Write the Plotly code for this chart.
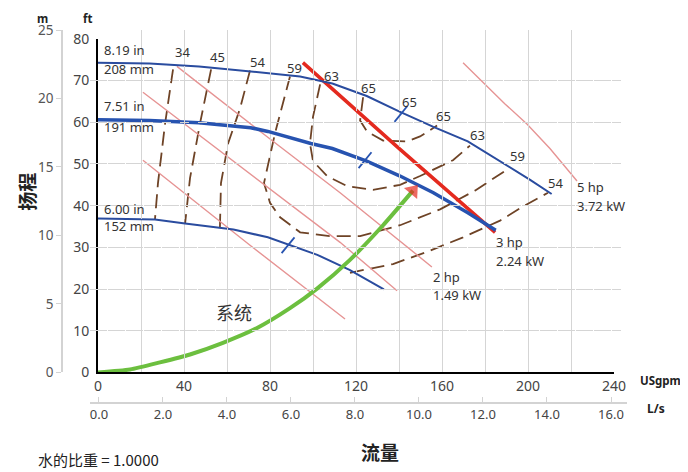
import plotly.graph_objects as go

# ---------------- data (flow in USgpm, head in ft) ----------------
flow_819 = [0, 24, 47, 71, 94, 109, 125, 140.5, 156, 172, 187, 201, 211]
head_819 = [74.3, 74.1, 73.4, 72.2, 71.0, 69.3, 66.3, 62.5, 58.9, 55.4, 50.7, 46.2, 42.8]

flow_751 = [0, 24, 47, 71, 79, 99, 109, 125, 140.5, 156, 172, 185]
head_751 = [60.6, 60.4, 59.9, 58.7, 57.8, 54.9, 53.7, 50.7, 47.1, 43.1, 38.3, 34.1]

flow_600 = [0, 26.5, 40.5, 63, 79, 94, 102, 117, 133]
head_600 = [36.9, 36.7, 35.7, 34.3, 32.4, 29.6, 28.2, 24.6, 19.9]

impeller_labels = [("8.19 in", "208 mm"), ("7.51 in", "191 mm"), ("6.00 in", "152 mm")]

bep_flow = [140.9, 124.2, 88.4]
bep_head = [62.0, 50.9, 30.5]

# power lines
flow_5hp = [169.8, 189.3, 199.5, 210.2, 222.8]
head_5hp = [74.3, 64.4, 59.6, 53.7, 45.9]
flow_3hp = [95.3, 140.5, 184.7]
head_3hp = [74.3, 53.5, 33.6]
flow_2hp = [36.7, 76.7, 112.6, 155.3]
head_2hp = [73.4, 57.3, 43.1, 25.3]
flow_15hp = [20.9, 46.0, 112.6, 139.1]
head_15hp = [67.2, 57.3, 31.2, 19.6]
flow_1hp = [20.9, 70.7, 114.9]
head_1hp = [50.9, 30.5, 12.8]

# efficiency contours
eff_34_f = [34.9, 31.2, 27.9, 26.5]
eff_34_h = [72.7, 59.7, 45.4, 36.7]
eff_45_f = [52.6, 47.4, 42.8, 40.5]
eff_45_h = [72.7, 59.6, 46.6, 35.7]
eff_54a_f = [70.7, 66.0, 60.5, 57.2, 56.7]
eff_54a_h = [72.4, 63.2, 54.9, 45.4, 34.6]
eff_59_f = [89.3, 82.3, 77.2, 80.0, 84.7, 94.0, 107.9, 121.9, 140.5, 159.1, 175.3, 190.7]
eff_59_h = [71.0, 57.3, 45.4, 40.7, 37.2, 33.6, 32.7, 32.7, 35.3, 39.1, 43.6, 48.8]
eff_63_f = [103.3, 100.0, 98.6, 100.0, 106.5, 115.8, 127.9, 140.5, 149.8, 165.1, 173.0]
eff_63_h = [69.1, 61.3, 54.9, 50.7, 47.1, 44.7, 43.8, 45.0, 47.1, 50.9, 54.4]
eff_65_f = [123.3, 121.9, 125.1, 132.6, 143.7, 149.8, 157.7]
eff_65_h = [66.0, 60.4, 57.8, 55.6, 55.4, 56.6, 59.2]
eff_54b_f = [117.2, 137.2, 153.0, 169.8, 187.0, 197.7, 209.3]
eff_54b_h = [23.9, 26.0, 28.9, 32.4, 36.4, 39.8, 43.1]

eff_label_text = ["34", "45", "54", "59", "63", "65", "65", "65", "63", "59", "54"]
eff_label_f = [39.1, 55.8, 74.4, 91.6, 108.4, 126.0, 144.7, 160.5, 176.7, 194.9, 213.0]
eff_label_h = [76.2, 75.0, 73.8, 72.2, 70.3, 67.5, 64.1, 60.8, 56.3, 51.1, 44.7]

# system curve
flow_sys = [0, 14.9, 28.8, 42.8, 58.1, 74.0, 89.3, 101.9, 117.2, 132.6, 146.5]
head_sys = [0, 0.7, 2.4, 4.3, 7.1, 10.65, 15.4, 20.1, 27.0, 35.3, 43.6]

x_ticks_gpm = [0, 40, 80, 120, 160, 200, 240]
x_grid_gpm = [20, 40, 60, 80, 100, 120, 140, 160, 180, 200, 220]
y_ticks_ft = [0, 10, 20, 30, 40, 50, 60, 70, 80]
y_grid_ft = [10, 20, 30, 40, 50, 60, 70]
ticks_m = [0, 5, 10, 15, 20, 25]
ticks_ls = [0, 2, 4, 6, 8, 10, 12, 14, 16]

# ---------------- layout helpers ----------------
PAGE_W, PAGE_H = 688, 472
OFF = 8                      # default page body margin
W, H = PAGE_W - OFF, PAGE_H - OFF
L, R, T, B = 62, 627, 25, 403   # plot area bounds in page pixels
pw, ph = R - L, B - T
DY = -3                      # visual centring correction for text


def px_x(p):
    return (p - L) / pw


def px_y(p):
    return (B - p) / ph


BROWN = "#6e4326"
PINK = "#e69494"
BLUE = "#2a4c9f"
BLUE2 = "#2753b0"
RED = "#e42a1f"
GREEN = "#6cbf3f"
GRID = "#d5d5d5"
FONT = "Noto Sans, Open Sans, DejaVu Sans, sans-serif"
CJK = "Noto Sans CJK SC, Noto Sans, sans-serif"

fig = go.Figure()


def line(xs, ys, color, width, dash=None):
    fig.add_trace(go.Scatter(x=xs, y=ys, mode="lines",
                             line=dict(color=color, width=width, dash=dash),
                             hoverinfo="skip", showlegend=False))


# efficiency contours
for fx, hy in [(eff_34_f, eff_34_h), (eff_45_f, eff_45_h), (eff_54a_f, eff_54a_h),
               (eff_59_f, eff_59_h), (eff_63_f, eff_63_h), (eff_65_f, eff_65_h),
               (eff_54b_f, eff_54b_h)]:
    line(fx, hy, BROWN, 1.8, "14px,7px")

# power lines
for fx, hy in [(flow_5hp, head_5hp), (flow_2hp, head_2hp),
               (flow_15hp, head_15hp), (flow_1hp, head_1hp)]:
    line(fx, hy, PINK, 1.4)
line(flow_3hp, head_3hp, RED, 3.5)

# impeller curves
line(flow_819, head_819, BLUE, 2)
line(flow_751, head_751, BLUE2, 3.5)
line(flow_600, head_600, BLUE, 2)

# BEP ticks
for bf, bh in zip(bep_flow, bep_head):
    line([bf - 3, bf + 3], [bh - 1.9, bh + 1.9], BLUE2, 1.8)

# system curve with arrow head
fig.add_trace(go.Scatter(x=flow_sys, y=head_sys, mode="lines",
                         line=dict(color=GREEN, width=4, shape="spline", smoothing=0.6),
                         hoverinfo="skip", showlegend=False))
fig.add_trace(go.Scatter(x=flow_sys[-2:], y=head_sys[-2:], mode="markers",
                         marker=dict(symbol="triangle-up", size=[0, 15], color=RED,
                                     angleref="previous", line=dict(width=0)),
                         hoverinfo="skip", showlegend=False))

# dummy traces to show secondary axes
fig.add_trace(go.Scatter(x=[0], y=[0], xaxis="x2", yaxis="y", mode="markers",
                         marker=dict(opacity=0), hoverinfo="skip", showlegend=False))
fig.add_trace(go.Scatter(x=[0], y=[0], xaxis="x", yaxis="y2", mode="markers",
                         marker=dict(opacity=0), hoverinfo="skip", showlegend=False))

ann = []


def txt(xp, yp, t, size=13, color="#333", family=FONT, xanchor="center", **kw):
    ann.append(dict(x=px_x(xp), y=px_y(yp + DY), xref="paper", yref="paper", text=t,
                    showarrow=False, xanchor=xanchor, yanchor="middle",
                    font=dict(size=size, color=color, family=family), **kw))


# efficiency labels
for t, fx, hy in zip(eff_label_text, eff_label_f, eff_label_h):
    ann.append(dict(x=fx, y=hy, xref="x", yref="y", text=t, showarrow=False,
                    xanchor="center", yanchor="middle", yshift=-DY,
                    font=dict(size=13, color="#333", family=FONT)))

# impeller labels
imp_pos = [(48, 68), (105, 126), (209, 227)]
for (t1, t2), (y1, y2) in zip(impeller_labels, imp_pos):
    txt(102, y1, t1, xanchor="left")
    txt(102, y2, t2, xanchor="left")

# power labels
pw_labels = [("5 hp", "3.72 kW", 575, 187, 206), ("3 hp", "2.24 kW", 494, 243, 262),
             ("2 hp", "1.49 kW", 431, 278, 297)]
for t1, t2, xx, y1, y2 in pw_labels:
    txt(xx, y1, t1, xanchor="left")
    txt(xx, y2, t2, xanchor="left")

txt(234, 314, "系统", size=18, family=CJK)

# axis titles
txt(42, 16, "<b>m</b>", size=11.5, color="#222")
txt(87, 16, "<b>ft</b>", size=11.5, color="#222")
txt(27, 192, "<b>扬程</b>", size=19, color="#222", family=CJK, textangle=-90)
txt(638, 383, "<b>USgpm</b>", size=11.5, color="#222", xanchor="left")
txt(645, 412, "<b>L/s</b>", size=12, color="#222", xanchor="left")
txt(380, 455, "<b>流量</b>", size=19, color="#222", family=CJK)
txt(98, 463, "水的比重 = 1.0000", size=15, color="#222", family=CJK)

fig.update_layout(
    width=W, height=H,
    margin=dict(l=L - OFF, r=PAGE_W - R, t=T - OFF, b=PAGE_H - B, pad=0),
    paper_bgcolor="white", plot_bgcolor="rgba(0,0,0,0)", showlegend=False,
    font=dict(family=FONT, color="#444", size=13),
    annotations=ann,
    xaxis=dict(domain=[px_x(98), px_x(614)], range=[0, 240], anchor="y",
               tickmode="array", tickvals=x_ticks_gpm, showgrid=False, zeroline=False,
               showline=True, linecolor="black", linewidth=2, ticks="",
               tickfont=dict(size=14, color="#444"),
               minor=dict(tickmode="array", tickvals=x_grid_gpm, showgrid=True,
                          gridcolor=GRID, griddash="dash", gridwidth=1, ticks="")),
    yaxis=dict(domain=[px_y(372), px_y(34)], range=[0, 80], anchor="x",
               tickmode="array", tickvals=y_ticks_ft, showgrid=False, zeroline=False,
               showline=True, linecolor="black", linewidth=2, ticks="",
               ticklabelstandoff=4,
               tickfont=dict(size=14, color="#444"),
               minor=dict(tickmode="array", tickvals=y_grid_ft, showgrid=True,
                          gridcolor=GRID, griddash="dash", gridwidth=1, ticks="")),
    xaxis2=dict(domain=[px_x(90), 1.0], range=[-0.28, 16.5], anchor="free", position=0,
                tickmode="array", tickvals=ticks_ls, tickformat=".1f",
                showgrid=False, zeroline=False, showline=True, linecolor="#d3d3d3",
                linewidth=1.5, ticks="inside", ticklen=5, tickcolor="#d3d3d3",
                tickfont=dict(size=13, color="#444")),
    yaxis2=dict(domain=[px_y(372), 1.0], range=[0, 25], anchor="free", position=0,
                tickmode="array", tickvals=ticks_m, showgrid=False, zeroline=False,
                showline=True, linecolor="#d3d3d3", linewidth=1.5, ticks="outside",
                ticklen=5, tickcolor="#d3d3d3", tickfont=dict(size=13.5, color="#555")),
)

fig.write_html("out.html")
